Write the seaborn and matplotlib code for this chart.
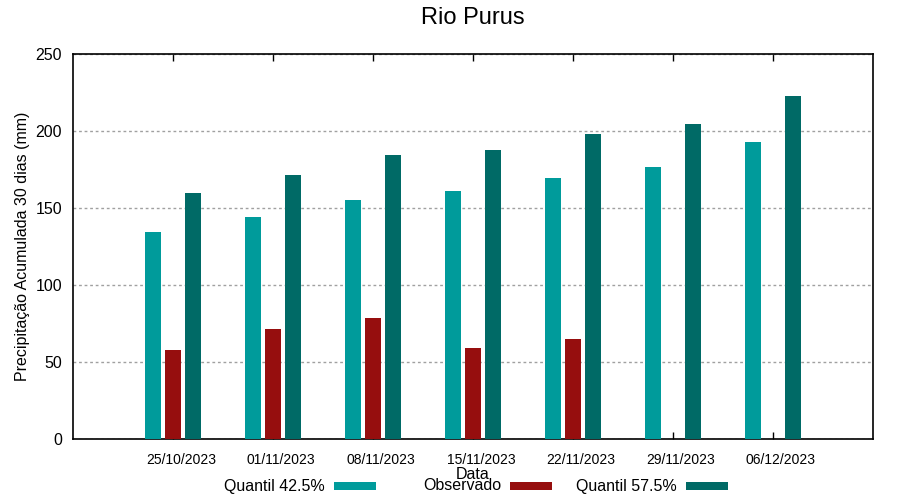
import matplotlib
matplotlib.use("Agg")
import matplotlib.pyplot as plt
import matplotlib.transforms as mtransforms
from matplotlib.patches import Rectangle
import seaborn as sns
import pandas as pd

dates = ["25/10/2023", "01/11/2023", "08/11/2023", "15/11/2023",
         "22/11/2023", "29/11/2023", "06/12/2023"]
q425 = [134.4, 144.2, 155.2, 161.0, 169.5, 176.6, 192.9]
observado = [57.8, 71.4, 78.6, 59.1, 64.9, None, None]
q575 = [159.7, 171.4, 184.4, 187.7, 198.0, 204.5, 222.7]

series_names = ["Quantil 42.5%", "Observado", "Quantil 57.5%"]
colors = ["#009B9B", "#960E0E", "#006A66"]

rows = []
for name, vals in zip(series_names, [q425, observado, q575]):
    for d, v in zip(dates, vals):
        if v is not None:
            rows.append({"Data": d, "Serie": name, "Valor": v})
df = pd.DataFrame(rows)

sns.set_style("white")
plt.rcParams["font.family"] = ["Liberation Sans", "DejaVu Sans"]
plt.rcParams["text.color"] = "black"
plt.rcParams["axes.labelcolor"] = "black"
plt.rcParams["xtick.color"] = "black"
plt.rcParams["ytick.color"] = "black"

fig = plt.figure(figsize=(9, 5), dpi=100)
ax = fig.add_axes([73 / 900, 1 - 439 / 500, 800 / 900, 385 / 500])

sns.barplot(data=df, x="Data", y="Valor", hue="Serie", order=dates,
            hue_order=series_names, palette=colors, width=0.6, gap=0.2,
            dodge=True, errorbar=None, saturation=1, ax=ax, legend=False,
            linewidth=0, edgecolor="none", zorder=3)

ax.set_xlim(-1, len(dates))
ax.set_ylim(0, 250)
ax.set_yticks([0, 50, 100, 150, 200, 250])
ax.yaxis.grid(True, color="#A0A0A0", linestyle=(0, (2, 2)), linewidth=1)
ax.set_axisbelow(True)
for s in ax.spines.values():
    s.set_color("black")
    s.set_linewidth(1.2)
    s.set_visible(True)

ax.tick_params(axis="x", direction="in", length=5, width=1, top=True,
               bottom=True, labelsize=10, pad=10, colors="black")
ax.tick_params(axis="y", length=0, labelsize=11.5, pad=8, colors="black")
offset = mtransforms.ScaledTranslation(8 / 100, 0, fig.dpi_scale_trans)
for lab in ax.get_xticklabels():
    lab.set_transform(lab.get_transform() + offset)

ax.set_ylabel("Precipitação Acumulada 30 dias (mm)", fontsize=11.5,
              labelpad=4, color="black")
ax.set_xlabel("Data", fontsize=11.5, color="black")
ax.xaxis.set_label_coords(0.5, -0.072)

fig.text(473 / 900, 1 - 18 / 500, "Rio Purus", fontsize=17,
         ha="center", va="center", color="black")

# gnuplot-style key: right-aligned text followed by a sample box
key_text_right = [325, 501, 677]
key_y = 486
for name, col, xr in zip(series_names, colors, key_text_right):
    fig.text(xr / 900, 1 - key_y / 500, name, fontsize=11.5, ha="right",
             va="center", color="black")
    fig.patches.append(Rectangle(((xr + 9) / 900, 1 - (key_y + 4) / 500),
                                 42 / 900, 8 / 500, facecolor=col,
                                 edgecolor="none", transform=fig.transFigure,
                                 figure=fig))

fig.savefig("out.png", dpi=100)
